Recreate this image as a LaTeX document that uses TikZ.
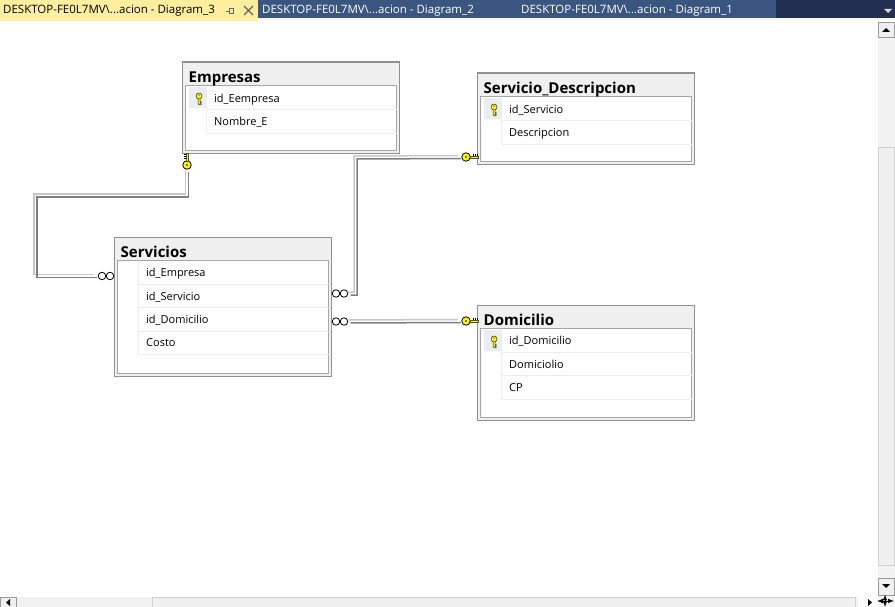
\documentclass[tikz,border=0pt]{standalone}
\usepackage{fontspec}
\setmainfont{Open Sans}
\usetikzlibrary{positioning}
\definecolor{tabyellow}{HTML}{FFEE9E}
\definecolor{tabblue}{HTML}{3A5680}
\definecolor{tabnavy}{HTML}{222F52}
\definecolor{headgray}{HTML}{F0F0F0}
\definecolor{framegray}{HTML}{909090}
\definecolor{keycell}{HTML}{EAEEF2}
\definecolor{keyyellow}{HTML}{FFF200}
\tikzset{tablebox/.style = {draw=framegray, line width=1.3pt, fill=headgray, anchor=north west, inner sep=0pt, minimum width=217pt}}
\tikzset{rowframe/.style = {draw=framegray!80, line width=0.9pt, fill=white, anchor=north west, inner sep=0pt, minimum width=211pt}}
\tikzset{tabletitle/.style = {anchor=west, inner sep=0pt, text height=11pt, text depth=3pt, font=\fontsize{15}{17}\selectfont\bfseries}}
\tikzset{tablerow/.style = {inner xsep=7.5pt, inner ysep=0pt, text width=175.5pt, minimum height=23pt, align=left, text height=10pt, text depth=2pt, font=\fontsize{11}{13}\selectfont}}
\tikzset{rowline/.style = {draw=black!7, line width=0.8pt}}
\tikzset{tabtext/.style = {anchor=west, inner sep=0pt, font=\fontsize{11.5}{14}\selectfont}}
\tikzset{barpart/.style = {fill=black!5, draw=none}}
\tikzset{button/.style = {fill=black!6, draw=black!40, line width=0.7pt}}
\tikzset{thumb/.style = {fill=black!6, draw=black!18, line width=0.7pt}}
\tikzset{manyend/.style = {draw, circle, fill=white, line width=0.8pt, minimum size=7.5pt, inner sep=0pt}}
\tikzset{keyend/.style = {draw, circle, fill=keyyellow, line width=0.8pt, minimum size=8.5pt, inner sep=0pt}}
\tikzset{relline/.style = {shorten >=2pt, shorten <=1pt,
    preaction={draw=black!22, line width=1.5pt, transform canvas={shift={(-1.5pt,1.5pt)}}},
    preaction={draw=black!50, line width=1.5pt, transform canvas={shift={(1.5pt,-1.5pt)}}}}}
\tikzset{fkey/.pic = {
    \fill[black] (0,0) circle (0.9pt);
    \draw[black, line width=0.6pt] (7,-0.8) -- (7,-2.6) (9,-0.8) -- (9,-2.6) (11,-0.8) -- (11,-2.6);
    \fill[keyyellow, draw=black!70, line width=0.35pt] (4,-1) -- (12,-1) -- (12,1) -- (4,1) -- cycle;
  }}
\tikzset{pkey/.pic = {
    \fill[keyyellow, draw=black!80, line width=0.5pt] (-1,0) -- (-1,7) -- (1,8) -- (2.5,7) -- (1,6) -- (2.5,5) -- (1,4) -- (1,0) -- cycle;
    \fill[keyyellow, draw=black!80, line width=0.5pt] (0,-1) circle (3pt);
    \fill[black] (0,-2) circle (0.7pt);
  }}

\begin{document}
\begin{tikzpicture}[x=1pt, y=-1pt, >=latex, node distance=0pt]
  \useasboundingbox (0,0) rectangle (895,607);
  \fill[white] (0,0) rectangle (895,607);

  % tab strip
  \fill[tabnavy] (0,0) rectangle (895,18);
  \fill[tabblue] (258,0) rectangle (776,18);
  \fill[tabyellow] (0,0) rectangle (258,21);
  \fill[tabyellow!40] (258,18) rectangle (895,20.5);
  \node [tabtext] (tabC) at (3,10.5) {DESKTOP-FE0L7MV\textbackslash...acion - Diagram\_3};
  \node [tabtext, text=white] (tabB) at (262,10.5) {DESKTOP-FE0L7MV\textbackslash...acion - Diagram\_2};
  \node [tabtext, text=white] (tabA) at (521,10.5) {DESKTOP-FE0L7MV\textbackslash...acion - Diagram\_1};
  \draw[black!60, line width=0.8pt] (226,11) -- (229,11) (229,8) -- (229,14) (229,8.5) -- (233,8.5) -- (233,13.5) -- (229,13.5);
  \draw[black!60, line width=1.1pt] (244,6) -- (253,15) (253,6) -- (244,15);
  \fill[white!85!black] (884,9) -- (892,9) -- (888,13) -- cycle;

  % scroll bars
  \fill[barpart] (878,22) rectangle (895,596);
  \fill[barpart] (0,597) rectangle (895,607);
  \filldraw[button] (878,22) rectangle (894,37);
  \filldraw[thumb] (878,147) rectangle (894,565);
  \filldraw[button] (878,578) rectangle (894,595);
  \filldraw[thumb] (152,597) rectangle (855,608);
  \filldraw[button] (0,597) rectangle (16,608);
  \fill[white] (858,597) rectangle (878,607);
  \fill[black] (882,32) -- (890,32) -- (886,28) -- cycle;
  \fill[black] (882,584) -- (890,584) -- (886,588) -- cycle;
  \fill[black] (10,599) -- (10,606) -- (6,602.5) -- cycle;
  \fill[black] (868,599) -- (868,606) -- (872,602.5) -- cycle;
  \draw[black, line width=1pt, <->, >=latex] (885,594.5) -- (885,607);
  \draw[black, line width=1pt, <->, >=latex] (877,601) -- (894,601);

  % Empresas
  \node [tablebox, minimum height=91.5pt] (empresas) at (181.5,61.5) {};
  \node [rowframe, minimum height=65pt, below right=23.5pt and 3.5pt of empresas.north west, anchor=north west] (empresasFrame) {};
  \fill[keycell] (189,87) rectangle (206,108);
  \node [tabletitle, right=7pt of empresas.north west, yshift=-17pt] (empresasTitle) {Empresas};
  \node [tablerow, anchor=north west] (idEempresa) at (206.5,86.5) {id\_Eempresa};
  \node [tablerow, below=of idEempresa] (nombreE) {Nombre\_E};
  \draw[rowline] (idEempresa.south west) -- (idEempresa.south east);
  \draw[rowline] (nombreE.south west) -- (nombreE.south east);
  \draw[rowline] (idEempresa.north west) -- (nombreE.south west);
  \pic at (199,97) {pkey};

  % Servicio_Descripcion
  \node [tablebox, minimum height=91.5pt] (descripcion) at (476.5,72.5) {};
  \node [rowframe, minimum height=65pt, below right=23.5pt and 3.5pt of descripcion.north west, anchor=north west] (descripcionFrame) {};
  \fill[keycell] (484,98) rectangle (501,119);
  \node [tabletitle, right=7pt of descripcion.north west, yshift=-17pt] (descripcionTitle) {Servicio\_Descripcion};
  \node [tablerow, anchor=north west] (idServicioD) at (501.5,97.5) {id\_Servicio};
  \node [tablerow, below=of idServicioD] (descripcionD) {Descripcion};
  \draw[rowline] (idServicioD.south west) -- (idServicioD.south east);
  \draw[rowline] (descripcionD.south west) -- (descripcionD.south east);
  \draw[rowline] (idServicioD.north west) -- (descripcionD.south west);
  \pic at (494,108) {pkey};

  % Servicios
  \node [tablebox, minimum height=139.5pt] (servicios) at (113.5,236.5) {};
  \node [rowframe, minimum height=113pt, below right=23.5pt and 3.5pt of servicios.north west, anchor=north west] (serviciosFrame) {};
  \node [tabletitle, right=7pt of servicios.north west, yshift=-17pt] (serviciosTitle) {Servicios};
  \node [tablerow, anchor=north west] (idEmpresa) at (138.5,261) {id\_Empresa};
  \node [tablerow, below=of idEmpresa] (idServicio) {id\_Servicio};
  \node [tablerow, below=of idServicio] (idDomicilio) {id\_Domicilio};
  \node [tablerow, below=of idDomicilio] (costo) {Costo};
  \draw[rowline] (idEmpresa.south west) -- (idEmpresa.south east);
  \draw[rowline] (idServicio.south west) -- (idServicio.south east);
  \draw[rowline] (idDomicilio.south west) -- (idDomicilio.south east);
  \draw[rowline] (costo.south west) -- (costo.south east);
  \draw[rowline] (idEmpresa.north west) -- (costo.south west);

  % Domicilio
  \node [tablebox, minimum height=115.5pt] (domicilio) at (476.5,304.5) {};
  \node [rowframe, minimum height=89pt, below right=23.5pt and 3.5pt of domicilio.north west, anchor=north west] (domicilioFrame) {};
  \fill[keycell] (484,330) rectangle (501,351);
  \node [tabletitle, right=7pt of domicilio.north west, yshift=-17pt] (domicilioTitle) {Domicilio};
  \node [tablerow, anchor=north west] (idDomicilioD) at (501.5,329) {id\_Domicilio};
  \node [tablerow, below=of idDomicilioD] (domiciolio) {Domiciolio};
  \node [tablerow, below=of domiciolio] (cp) {CP};
  \draw[rowline] (idDomicilioD.south west) -- (idDomicilioD.south east);
  \draw[rowline] (domiciolio.south west) -- (domiciolio.south east);
  \draw[rowline] (cp.south west) -- (cp.south east);
  \draw[rowline] (idDomicilioD.north west) -- (cp.south west);
  \pic at (494,340) {pkey};

  % relationship ends
  \node [keyend] (keyE) at (187,165) {};
  \node [keyend] (keyD) at (466,157) {};
  \node [keyend] (keyH) at (466,321) {};
  \node [manyend] (manyEa) at (102,276) {};
  \node [manyend] (manyEb) at (110,276) {};
  \node [manyend] (manyDa) at (336,293.5) {};
  \node [manyend] (manyDb) at (344,293.5) {};
  \node [manyend] (manyHa) at (336,321.5) {};
  \node [manyend] (manyHb) at (344,321.5) {};
  \pic at (keyD) {fkey};
  \pic at (keyH) {fkey};
  \pic[rotate=90] at (keyE) {fkey};
  \coordinate (bendE) at (35.5,195.5);
  \coordinate (bendD) at (355.5,157.5);

  \path[relline] (keyE.south) |- (bendE) |- (manyEa.west);
  \path[relline] (manyDb.east) -| (bendD) -- (keyD.west);
  \path[relline] (manyHb.east) -- (keyH.west);
\end{tikzpicture}
\end{document}
